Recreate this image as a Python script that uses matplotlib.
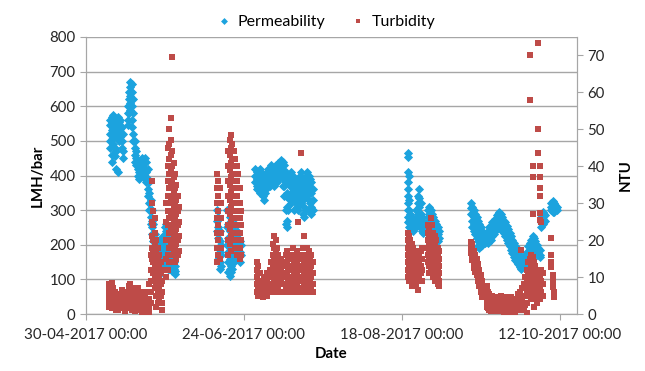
import matplotlib
matplotlib.use("Agg")
import matplotlib.pyplot as plt
import numpy as np
import datetime as dt

plt.rcParams['font.family'] = ['Lato', 'DejaVu Sans']

start = dt.datetime(2017, 4, 30)
tick_days = [0, 55, 110, 165]
tick_labels = ["30-04-2017 00:00", "24-06-2017 00:00", "18-08-2017 00:00", "12-10-2017 00:00"]

# permeability (LMH/bar): day offset from 30-04-2017 -> readings on that day
perm_days = [8.5, 9, 9.5, 10, 10.5, 11, 11.5, 12, 12.5, 13,
             14.5, 15, 15.5, 16, 16.5, 17, 17.5, 18, 18.5, 19, 19.5, 20, 20.5, 21, 21.5,
             22, 22.5, 23, 23.5, 24, 24.5, 25, 25.5, 26, 26.5, 27, 27.5, 28, 28.5, 29, 29.5,
             30, 30.5, 31,
             45.5, 46, 46.5, 47, 49, 49.5, 50, 50.5, 51, 51.5, 52, 52.5, 53, 53.5, 54,
             59, 59.5, 60, 60.5, 61, 61.5, 62, 62.5, 63, 63.5, 64, 64.5, 65, 65.5, 66, 66.5,
             67, 67.5, 68, 68.5, 69, 69.5, 70, 70.5, 71, 71.5, 72, 72.5, 73, 73.5, 74, 74.5,
             75, 75.5, 76, 76.5, 77, 77.5, 78, 78.5, 79,
             112, 112.5, 113, 113.5, 114, 114.5, 115, 115.5, 116, 116.5, 117, 117.5,
             119, 119.5, 120, 120.5, 121, 121.5, 122, 122.5, 123,
             134, 134.5, 135, 135.5, 136, 136.5, 137, 137.5, 138, 138.5, 139, 139.5, 140,
             140.5, 141, 141.5, 142, 142.5, 143, 143.5, 144, 144.5, 145, 145.5, 146, 146.5,
             147, 147.5, 148, 148.5, 149, 149.5, 150, 150.5, 151, 151.5, 152, 152.5, 153,
             153.5, 154, 154.5, 155, 155.5, 156, 156.5, 157, 157.5, 158, 158.5, 159, 159.5,
             160, 162, 162.5, 163, 163.5, 164]
perm_vals = [[560, 545, 520, 500, 480], [570, 555, 530, 505, 460, 440], [575, 560, 540, 520, 490],
             [565, 550, 525, 480, 455], [560, 540, 510, 470, 420], [570, 545, 520, 410],
             [555, 530, 500], [560, 535, 510], [540, 500, 480], [520, 470, 450],
             [600, 580, 560, 545], [640, 620, 600, 580], [670, 655, 630, 610, 590],
             [665, 640, 600, 560, 540], [620, 580, 520, 500], [500, 480, 460, 440],
             [470, 450, 430], [440, 420, 400], [430, 410, 390], [440, 420, 400],
             [450, 430, 410], [445, 420, 395], [450, 420, 400], [440, 410, 380],
             [420, 390, 360, 340],
             [380, 350, 320, 300], [330, 300, 280, 260], [300, 270, 250, 230],
             [260, 230, 210, 190], [230, 200, 180, 160], [200, 170, 150, 120, 100],
             [180, 150, 130, 110], [200, 170, 140], [220, 190, 160], [210, 180, 150],
             [200, 170, 140], [230, 250, 180, 150], [260, 240, 220, 160], [250, 230, 150, 130],
             [200, 170, 140, 130], [180, 150, 130],
             [160, 140, 125], [150, 130, 120], [140, 125, 115],
             [300, 270, 240], [280, 250, 220, 190, 160], [240, 210, 180, 150, 130],
             [200, 170, 140], [300, 250, 200], [260, 220, 180, 150, 120],
             [280, 240, 200, 160, 130, 110], [250, 210, 170, 140, 120], [230, 200, 160, 130],
             [240, 210, 180, 150], [260, 220, 190], [240, 200, 170], [230, 190, 160],
             [210, 180, 150], [200, 170],
             [420, 400, 380], [410, 390, 370, 360], [400, 380, 360], [420, 395, 370, 350],
             [410, 385, 360], [400, 370, 340], [390, 360, 330], [400, 375, 350],
             [410, 390, 365], [420, 400, 375], [410, 390, 370], [430, 405, 380],
             [420, 400, 375], [410, 390, 370], [430, 405, 385], [425, 400, 380],
             [435, 410, 390], [440, 420, 395], [445, 425, 400], [440, 415, 390, 370],
             [430, 400, 370, 340], [410, 380, 340, 300, 260], [390, 350, 310, 270, 250],
             [380, 340, 300], [400, 370, 330], [410, 380, 350, 320], [400, 370, 340],
             [390, 360, 330, 300], [380, 350, 320], [370, 340, 310], [390, 360, 330, 300],
             [400, 370, 340], [410, 380, 350, 320], [390, 360, 330, 290],
             [380, 350, 310, 280], [400, 370, 340, 300], [410, 380, 350],
             [400, 370, 330, 300], [390, 360, 320], [380, 350, 310, 290], [360, 330, 300],
             [466, 452, 410, 380, 360, 340, 320, 300, 280, 265], [400, 330, 300, 270, 250],
             [290, 270, 250], [280, 260, 245], [270, 250, 240], [275, 255],
             [300, 270, 250], [340, 320, 290, 260], [360, 335, 310, 280, 255],
             [320, 290, 260], [280, 260, 240], [270, 250, 235],
             [300, 280, 260], [310, 290, 270, 250], [300, 280, 260], [290, 270, 250],
             [280, 260, 240], [270, 250, 230], [260, 240, 220], [250, 230, 210], [240, 220],
             [320, 305, 290], [310, 290, 270, 250], [300, 280, 260, 240], [290, 270, 250, 230],
             [280, 260, 240, 220], [270, 250, 230, 210, 195], [260, 240, 220, 200, 190],
             [250, 230, 210, 195], [240, 220, 200], [230, 210], [225, 205], [230, 210],
             [240, 220, 205],
             [250, 230, 210], [255, 235, 215], [265, 245, 225], [270, 250, 230],
             [275, 255, 240], [285, 265, 245], [290, 270, 250], [295, 275, 255], [290, 270],
             [280, 260, 240], [270, 250, 235], [265, 245, 225], [255, 235, 215],
             [245, 225, 205], [235, 215, 195], [225, 205, 185], [215, 195, 175],
             [205, 185, 165], [195, 175, 155], [190, 170, 150], [180, 160, 145],
             [170, 150, 135], [160, 140, 130], [155, 135], [160, 140], [170, 150],
             [180, 160, 145], [195, 175, 160], [205, 185, 165], [215, 195, 175],
             [225, 205, 185], [220, 200, 180], [210, 190, 175], [200, 180, 170], [190, 175],
             [185, 170, 165], [280, 265, 250], [295, 275, 260], [290, 270],
             [285, 270], [320, 310, 300], [325, 310, 295], [320, 305, 295], [315, 300],
             [310, 300]]

# turbidity (NTU): day offset -> readings on that day
turb_days = [8, 8.5, 9, 9.5, 10, 10.5, 11, 12, 12.5, 13, 13.5, 14, 15, 15.5, 16, 16.5,
             17, 17.5, 18, 18.5, 19, 19.5, 20, 20.5, 21, 21.5,
             22, 22.5, 23, 23.5, 24, 24.5, 25, 25.5, 26, 26.5,
             28, 28.5, 29, 29.5, 30, 30.5, 31, 31.5, 32, 32.5,
             45.5, 46, 46.5, 47, 49.5, 50, 50.5, 51, 51.5, 52, 52.5, 53, 53.5, 54,
             59.5, 60, 60.5, 61, 61.5, 62, 62.5, 63, 63.5, 64, 64.5, 65, 65.5, 66, 66.5,
             67, 67.5, 68, 68.5, 69, 69.5, 70, 70.5, 71, 71.5, 72, 72.5, 73, 73.5, 74,
             74.5, 75, 75.5, 76, 76.5, 77, 77.5, 78, 78.5, 79,
             112, 112.5, 113, 113.5, 114, 114.5, 115, 115.5, 116, 116.5, 117,
             119, 119.5, 120, 120.5, 121, 121.5, 122, 122.5, 123,
             134, 134.5, 135, 135.5, 136, 136.5, 137, 137.5, 138, 138.5, 139.5, 140,
             140.5, 141, 141.5, 142, 142.5, 143, 143.5, 144, 144.5, 145, 145.5, 146,
             146.5, 147, 147.5, 148, 148.5, 149, 149.5, 150, 150.5, 151, 151.5, 152,
             152.5, 153, 153.5, 154, 154.5, 155, 155.5, 156, 156.5, 157, 157.5, 158,
             158.5, 159, 162, 162.5, 163]
turb_vals = [[8.0, 6.5, 5.0, 3.5, 2.0], [7.5, 6.0, 4.5, 3.0], [8.5, 7.0, 5.5, 4.0, 2.5, 1.5],
             [7.0, 5.5, 3.5, 2.0], [6.0, 4.5, 3.0, 1.5], [5.0, 3.5, 2.0, 1.0], [4.0, 2.5, 1.0],
             [5.5, 4.0, 2.5], [6.5, 5.0, 3.5, 2.0], [6.0, 4.5, 3.0, 1.5], [5.0, 3.5, 2.0, 0.8],
             [4.5, 3.0, 1.5], [7.5, 6.0, 4.5, 3.0, 1.5], [8.0, 6.5, 5.0, 3.5, 2.0],
             [7.0, 5.5, 4.0, 2.5, 1.0], [6.0, 4.5, 3.0, 1.5], [5.0, 3.5, 2.0, 0.8],
             [6.5, 5.0, 3.5], [7.0, 5.5, 4.0, 2.5, 1.0], [6.0, 4.5, 3.0, 1.5],
             [5.5, 4.0, 2.5, 1.0], [4.5, 3.0, 1.5, 0.5], [5.0, 3.5, 2.0],
             [6.0, 4.5, 3.0, 1.5, 0.5], [4.0, 2.5, 1.0], [3.0, 1.5, 0.5],
             [8.0, 6.0, 4.0, 2.0, 0.5], [16, 12, 9, 6, 3], [36, 30, 25, 21, 18, 15, 12, 9],
             [28, 24, 20, 17, 14, 11], [26, 22, 19, 16, 13, 10, 7], [20, 17, 14, 11, 8, 5, 2],
             [18, 15, 12, 9, 6, 3], [16, 13, 10, 7, 4], [14, 11, 8, 5], [12, 9, 6, 3, 1],
             [30, 25, 20, 15, 10], [45, 40, 36, 32, 28, 24, 20, 16, 12],
             [50, 46, 42, 38, 34, 30, 26, 22, 18, 14], [53, 47, 43, 39, 35, 31, 27, 23, 19],
             [69.5, 44, 40, 36, 32, 28, 24, 20, 16], [41, 37, 33, 29, 25, 21, 17],
             [38, 34, 30, 26, 22, 18, 14], [35, 31, 27, 23, 19, 15], [32, 28, 24, 20, 16],
             [29, 25, 21, 17],
             [38, 34, 30, 26, 22, 18, 14], [36, 32, 28, 24, 20, 16], [34, 30, 26, 22, 18, 15],
             [30, 26, 22, 18], [44, 40, 36, 32, 28, 24, 20, 16],
             [47, 43, 39, 35, 31, 27, 23, 19], [48.6, 45, 41, 37, 33, 29, 25, 21, 17],
             [46, 42, 38, 34, 30, 26, 22], [44, 40, 36, 32, 28, 24, 20],
             [42, 38, 34, 30, 26, 22, 18], [40, 36, 32, 28, 24, 20, 16],
             [38, 34, 30, 26, 22, 18], [34, 30, 26, 22, 18, 15], [28, 24, 20, 16],
             [14, 12, 10, 8, 6], [13, 11, 9, 7, 5], [11, 9, 7, 5], [9, 7, 5], [8, 6, 4.6],
             [10, 8, 6], [9, 7, 5], [11, 9, 7, 5], [10, 8, 6], [12, 10, 8, 6], [14, 11, 8, 6],
             [19, 16, 13, 10, 7], [21, 18, 15, 12, 9, 6], [20, 17, 14, 11, 8],
             [18, 15, 12, 9, 7], [16, 13, 10, 7], [14, 11, 8, 6], [15, 12, 9, 6],
             [13, 10, 8, 6], [14, 11, 8], [16, 13, 10, 7], [17, 14, 11, 8, 6],
             [15, 12, 9, 7], [13, 10, 8, 6], [16, 13, 10, 7], [18, 15, 12, 9, 6.5],
             [14, 11, 8, 6], [16, 13, 10, 7], [17, 14, 11, 8], [25, 15, 12, 9, 6],
             [13, 10, 7], [43.7, 16, 13, 10, 7], [18, 15, 12, 9, 6], [21, 14, 11, 8],
             [16, 13, 10, 7], [18, 15, 12, 9, 6], [17, 14, 11, 8], [15, 12, 9, 7],
             [16, 13, 10, 7], [14, 11, 8, 6],
             [22, 20, 18, 16, 14, 12, 10], [21, 19, 17, 15, 13, 11, 9], [20, 18, 16, 14, 12, 10],
             [19, 17, 15, 13, 11, 9, 7.5], [18, 16, 14, 12, 10], [17, 15, 13, 11, 9],
             [16, 14, 12, 10, 8], [15, 13, 11, 9, 6.5], [16, 14, 12, 10], [17, 15, 13, 11],
             [18, 15, 12, 9],
             [24, 22, 20, 18, 16, 14], [23, 21, 19, 17, 15, 13, 11], [26, 22, 20, 18, 16, 14, 12],
             [24, 21, 19, 17, 15, 13, 11], [22, 20, 18, 16, 14, 12, 10],
             [21, 19, 17, 15, 13, 11, 9], [20, 18, 16, 14, 12, 10], [18, 16, 14, 12, 10, 8],
             [17, 15, 13, 11, 9, 7.5],
             [19.5, 18, 16.5], [19, 17.5, 16, 14.5], [17, 15.5, 14, 12.5], [16, 14.5, 13, 11.5],
             [15, 13.5, 12, 10.5], [13.5, 12, 10.5, 9], [12, 10.5, 9, 7.5], [10.5, 9, 7.5, 6],
             [9, 7.5, 6, 4.6], [7, 5.5, 4.5], [7.5, 5, 3.5, 2], [6, 4, 2.5, 1.5],
             [5.5, 3.5, 2, 1], [4.5, 3, 1.5, 0.8], [5, 3.5, 2, 1], [4, 2.5, 1.2], [3.5, 2, 0.8],
             [4.5, 3, 1.5], [4, 2.5, 1], [3.5, 2, 0.8], [5, 3, 1.5], [4, 2.5, 1], [3, 1.5, 0.5],
             [4.5, 3, 1.5], [3.5, 2, 0.8], [4, 2.5, 1], [3, 1.5, 0.5], [4.5, 3, 1.5],
             [3.5, 2, 0.8], [4, 2.5, 1], [3, 1.5, 0.5], [4, 2.5, 1], [5.5, 3, 1.5], [6, 4, 2],
             [17.4, 5, 3, 1], [7, 4.5, 2.5], [8, 5, 3, 1.5], [10, 7.5, 5, 2.5],
             [12, 9, 6, 3, 0.3], [14, 11, 8, 5], [70.1, 57.9, 15, 12, 9, 6], [16, 13, 10, 7, 4],
             [40.2, 37, 27, 15.5, 12, 9, 6], [14, 11, 8, 5, 2], [13, 10, 7, 4], [12, 9, 6, 3],
             [73.4, 50, 43.7, 11, 8, 5], [40, 37, 34, 32, 27.4, 25.5, 10, 7, 4],
             [25, 12, 9, 6], [11, 8, 5], [20.6, 16, 14, 12.8], [10.6, 9, 7.3], [6, 4.6]]


def flatten(days, vals):
    xs, ys = [], []
    for d, vs in zip(days, vals):
        for v in vs:
            xs.append(start + dt.timedelta(days=d))
            ys.append(v)
    return xs, ys


px, py = flatten(perm_days, perm_vals)
tx, ty = flatten(turb_days, turb_vals)

blue = '#1CA3DE'
red = '#BE4B48'
grey = '#A6A6A6'

fig = plt.figure(figsize=(6.45, 3.71), dpi=100)
ax = fig.add_axes([0.1333, 0.1536, 0.7613, 0.7467])
ax2 = ax.twinx()

ax.scatter(px, py, marker='D', s=22, color=blue, linewidths=0, zorder=3, label='Permeability')
ax2.scatter(tx, ty, marker='s', s=18, color=red, linewidths=0, zorder=3, label='Turbidity')

ax.set_xlim(start, start + dt.timedelta(days=171))
ax.set_ylim(0, 800)
ax.set_yticks(np.arange(0, 801, 100))
ax2.set_ylim(0, 75)
ax2.set_yticks(np.arange(0, 71, 10))
ax.set_xticks([start + dt.timedelta(days=d) for d in tick_days])
ax.set_xticklabels(tick_labels)

ax.grid(axis='y', color=grey, linewidth=1)
ax.set_axisbelow(True)
for a in (ax, ax2):
    for s in a.spines.values():
        s.set_color(grey)
    a.spines['top'].set_visible(False)
    a.tick_params(colors=grey, labelcolor='#262626', labelsize=10.8, length=4)
ax.tick_params(axis='x', pad=6)

ax.set_ylabel('LMH/bar', fontsize=10.8, fontweight='bold', labelpad=3)
ax2.set_ylabel('NTU', fontsize=10.8, fontweight='bold', labelpad=10)
ax.set_xlabel('Date', fontsize=10.8, fontweight='bold', labelpad=4)

h1, l1 = ax.get_legend_handles_labels()
h2, l2 = ax2.get_legend_handles_labels()
fig.legend(h1 + h2, l1 + l2, loc='upper center', bbox_to_anchor=(0.505, 1.0), ncol=2,
           frameon=False, fontsize=11.5, markerscale=0.75, handletextpad=0.3,
           columnspacing=1.6, handlelength=1.0)

fig.savefig('out.png', dpi=100)
